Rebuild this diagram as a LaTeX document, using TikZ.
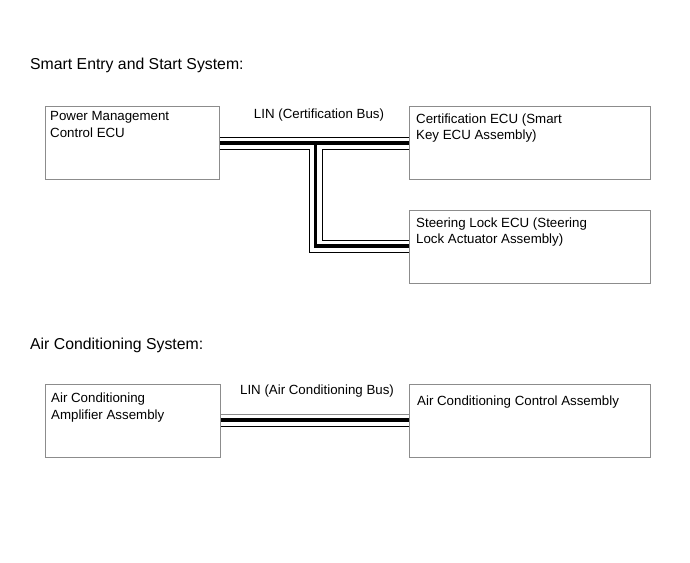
\documentclass[tikz,border=0pt]{standalone}
\usepackage{fontspec}
\setmainfont{Liberation Sans}
\begin{document}
\begin{tikzpicture}[x=1pt,y=-1pt,
  ecubox/.style={draw=black!45,line width=0.9pt,fill=white,inner sep=0pt},
  boxtext/.style={anchor=base west,inner sep=0pt,font=\fontsize{13.3}{16.5}\selectfont,align=left},
  heading/.style={anchor=base west,inner sep=0pt,font=\fontsize{15.8}{18}\selectfont},
  buslabel/.style={anchor=base,inner sep=0pt,font=\fontsize{13.3}{16}\selectfont},
  thinbus/.style={line width=0.9pt,black},
  thickbus/.style={line width=3.8pt,black}]
\useasboundingbox (0,0) rectangle (690,562);
% headings
\node[heading] (h1) at (30,69) {Smart Entry and Start System:};
\node[heading] (h2) at (30,349) {Air Conditioning System:};
% boxes
\node[ecubox,minimum width=174,minimum height=73,anchor=north west] (pm) at (45,106) {};
\node[ecubox,minimum width=241,minimum height=73,anchor=north west] (cert) at (409,106) {};
\node[ecubox,minimum width=241,minimum height=73,anchor=north west] (sl) at (409,210) {};
\node[ecubox,minimum width=175,minimum height=73,anchor=north west] (amp) at (45,384) {};
\node[ecubox,minimum width=241,minimum height=73,anchor=north west] (acc) at (409,384) {};
% box texts (anchor at baseline of last line)
\node[boxtext] (pmt) at (50,137) {Power Management\\Control ECU};
\node[boxtext] (certt) at (416,139.5) {Certification ECU (Smart\\Key ECU Assembly)};
\node[boxtext] (slt) at (416,243.5) {Steering Lock ECU (Steering\\Lock Actuator Assembly)};
\node[boxtext] (ampt) at (51,419) {Air Conditioning\\Amplifier Assembly};
\node[boxtext] (acct) at (417,405) {Air Conditioning Control Assembly};
% bus labels
\node[buslabel] (l1) at (319,118) {LIN (Certification Bus)};
\node[buslabel] (l2) at (317,394) {LIN (Air Conditioning Bus)};
% certification bus
\draw[thinbus] (pm.east |- 0,137) -- (cert.west |- 0,137);
\draw[thickbus] (pm.east |- 0,143) -- (cert.west |- 0,143);
\draw[thinbus] (pm.east |- 0,149) -- (309,149) -- (309,252) -- (sl.west |- 0,252);
\draw[thickbus] (315.5,143) -- (315.5,246) -- (sl.west |- 0,246);
\draw[thinbus] (cert.west |- 0,149) -- (322,149) -- (322,240) -- (sl.west |- 0,240);
% AC bus
\draw[line width=0.9pt,black!45] (amp.east |- 0,414) -- (acc.west |- 0,414);
\draw[thickbus] (amp.east |- 0,420) -- (acc.west |- 0,420);
\draw[thinbus] (amp.east |- 0,426) -- (acc.west |- 0,426);
\end{tikzpicture}
\end{document}
